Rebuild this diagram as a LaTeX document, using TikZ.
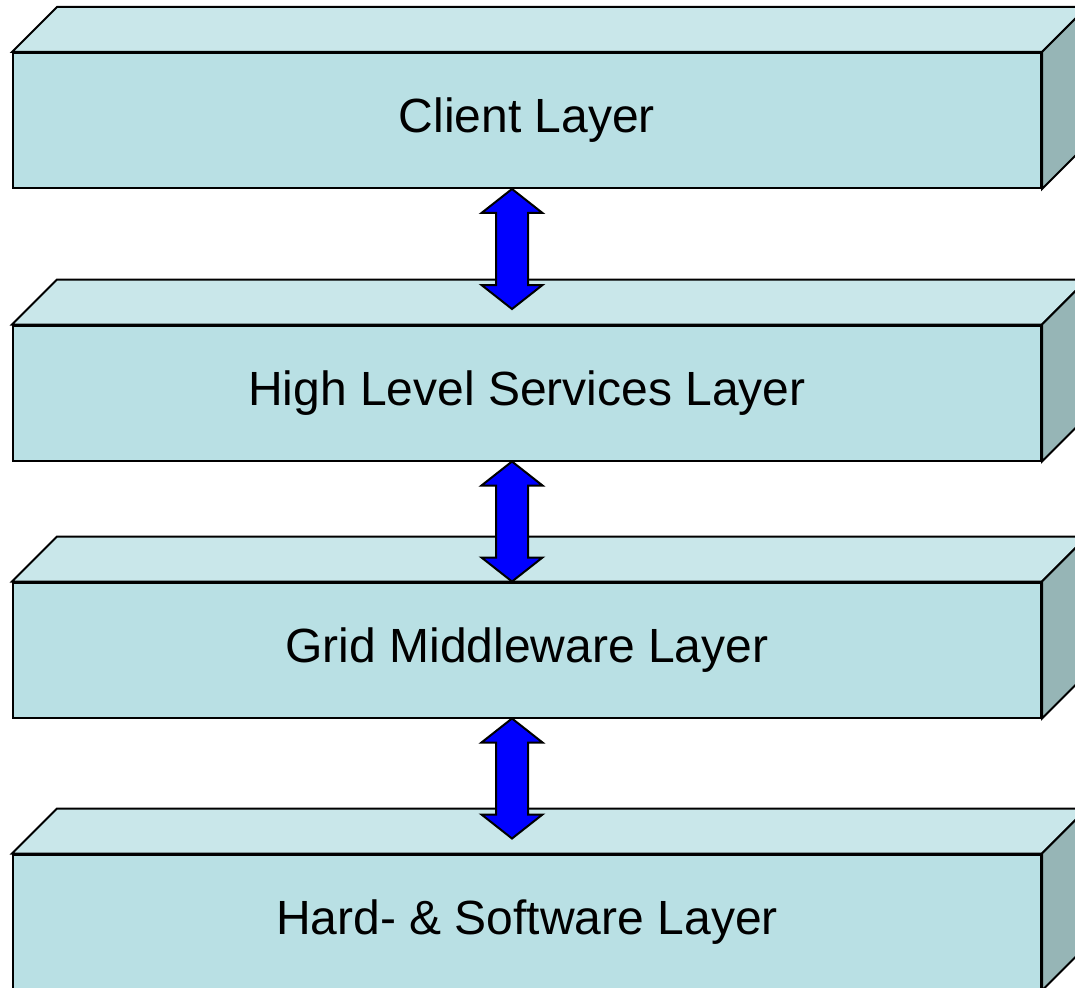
\documentclass[tikz,border=0pt]{standalone}
\usepackage{fontspec}
\setmainfont{Liberation Sans}
\usepackage{tikz}
\usetikzlibrary{calc}

\definecolor{frontcol}{RGB}{185,224,228}
\definecolor{topcol}{RGB}{201,231,234}
\definecolor{sidecol}{RGB}{150,181,182}
\definecolor{arrowcol}{RGB}{0,0,255}

\tikzset{
  face/.style={draw=black, line width=1.5pt, line join=miter},
  front/.style={face, fill=frontcol, rectangle, inner sep=0pt,
    minimum width=771pt, minimum height=101.25pt,
    font=\fontsize{36}{43}\selectfont},
  link/.style={draw=black, line width=1.5pt, fill=arrowcol, line join=miter}
}

% one box: front face is the node, top and side faces hang off its corners
\newcommand{\layerbox}[3]{%
  \node[front] (#1) at (527,#2) {\raisebox{-5pt}{#3}};
  \draw[face, fill=topcol] (#1.north west) -- ++(45,-45) -- ($(#1.north east)+(45,-45)$) -- (#1.north east) -- cycle;
  \draw[face, fill=sidecol] (#1.north east) -- ++(45,-45) -- ($(#1.south east)+(45,-45)$) -- (#1.south east) -- cycle;
}

% block arrow with two heads, hanging below a box
\newcommand{\twoway}[1]{%
  \draw[link] ($(#1.south)+(-15,0)$) -- ++(30.5,24) -- ++(-14.5,0) -- ++(0,72)
    -- ++(14.5,0) -- ++(-30.5,24) -- ++(-30.5,-24) -- ++(14.5,0)
    -- ++(0,-72) -- ++(-14.5,0) -- cycle;
}

\begin{document}
\begin{tikzpicture}[x=0.75pt, y=-0.75pt]
    \useasboundingbox (0,0) rectangle (1075,988);
    \clip (0,0) rectangle (1075,988);
    \fill[white] (0,0) rectangle (1075,988);
    \layerbox{client}{120.5}{Client Layer}
    \layerbox{services}{393}{High Level Services Layer}
    \layerbox{middleware}{650}{Grid Middleware Layer}
    \layerbox{hardware}{922}{Hard- \& Software Layer}
    \twoway{client}
    \twoway{services}
    \twoway{middleware}
  \end{tikzpicture}
\end{document}
